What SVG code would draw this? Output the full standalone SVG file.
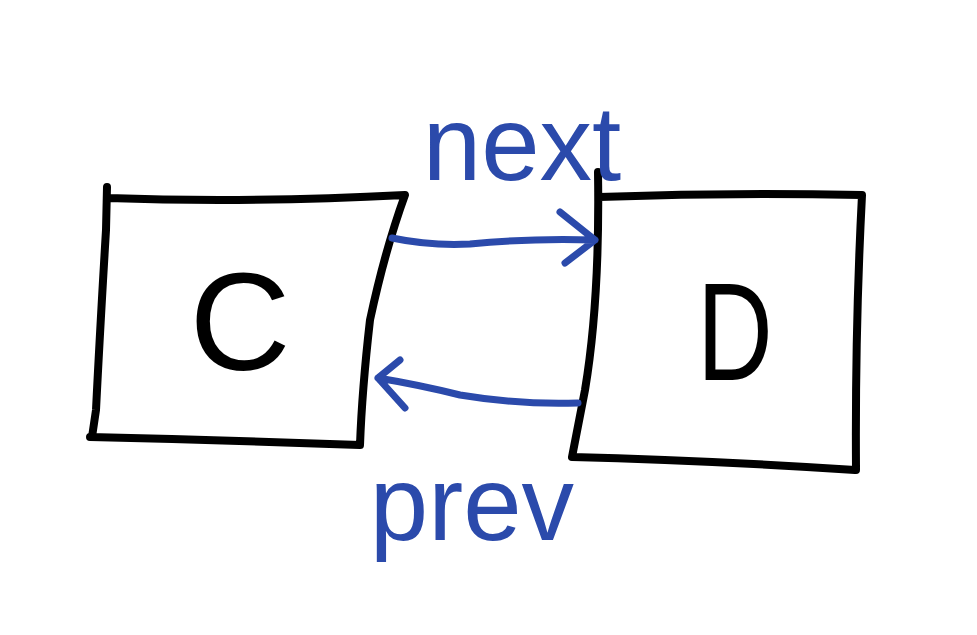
<svg xmlns="http://www.w3.org/2000/svg" width="977" height="635" viewBox="0 0 977 635">
<style>
.box{fill:none;stroke:#000;stroke-width:8;stroke-linecap:round;stroke-linejoin:round}
.arr{fill:none;stroke:#2b4aab;stroke-width:7;stroke-linecap:round;stroke-linejoin:round}
.lbl{fill:#000;font-family:"Liberation Sans",Arial,sans-serif;font-weight:normal}
.blue{fill:#2b4aab;font-family:"Liberation Sans",Arial,sans-serif;font-size:105px}
</style>
<rect width="977" height="635" fill="#fff"/>
<g id="node-C">
<path class="box" d="M107,187 L106,230 Q100,330 96,410 L92,437 M108,198 Q250,203 405,195 Q385,250 370,320 Q362,390 360,445 M90,437 Q220,440 360,445"/>
<text class="lbl" x="240" y="370" font-size="140" text-anchor="middle">C</text>
</g>
<g id="node-D">
<path class="box" d="M598,172 Q600,300 585,390 L572,457 M599,197 Q730,192 862,195 Q855,330 856,470 M572,457 Q700,460 855,470"/>
<text class="lbl" x="735" y="380" font-size="140" text-anchor="middle" transform="translate(735 0) scale(0.75 1) translate(-735 0)">D</text>
</g>
<g id="connectors">
<path class="arr" d="M392,238 Q430,246 470,244 Q530,238 595,240 M560,212 L595,240 L565,263"/>
<path class="arr" d="M578,403 Q520,405 460,395 Q420,385 378,378 M400,360 L378,378 L405,408"/>
</g>
<text class="blue" x="522" y="180" text-anchor="middle">next</text>
<text class="blue" x="472" y="540" text-anchor="middle">prev</text>
</svg>
